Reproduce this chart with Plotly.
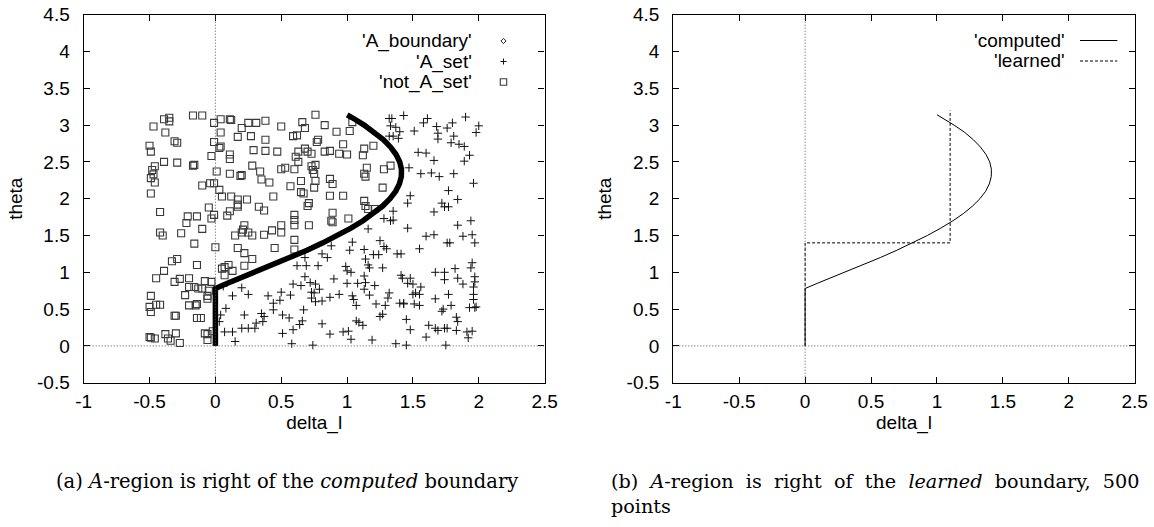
import plotly.graph_objects as go

# ---------------- data ----------------
boundary_delta = [0.0, 0.0, 0.0, 0.0, 0.0, 0.0, 0.0, 0.0, 0.0, 0.092, 0.162, 0.302, 0.438, 0.570,
                  0.696, 0.816, 0.927, 1.029, 1.121, 1.202, 1.270, 1.326, 1.369, 1.397, 1.412,
                  1.413, 1.400, 1.372, 1.331, 1.277, 1.211, 1.130, 1.040, 1.001]
boundary_theta = [0.0, 0.1, 0.2, 0.3, 0.4, 0.5, 0.6, 0.7, 0.78, 0.85, 0.9, 1.0, 1.1, 1.2,
                  1.3, 1.4, 1.5, 1.6, 1.7, 1.8, 1.9, 2.0, 2.1, 2.2, 2.3,
                  2.4, 2.5, 2.6, 2.7, 2.8, 2.9, 3.0, 3.1, 3.14]

a_set_delta = [1.32, 1.34, 1.33, 1.43, 1.37, 1.40, 1.32, 1.35, 1.39, 1.58, 1.61, 1.51, 1.68, 1.76, 1.80,
               1.90, 2.00, 1.98, 1.69, 1.69, 1.79, 1.81, 1.85, 1.89, 1.93, 1.89, 1.66, 1.54, 1.60,
               1.47, 1.56, 1.64, 1.70, 1.81, 1.96, 1.77, 1.84, 1.48, 1.46, 1.72, 1.74, 1.66, 1.77, 1.35, 1.35,
               1.28, 1.33, 1.16, 1.46, 1.66, 1.60, 1.84, 1.94, 1.88, 1.95, 1.97, 1.78, 1.76, 1.55, 1.38,
               1.41, 1.25, 1.28, 1.30, 1.24, 1.20, 1.13, 1.04, 1.02, 0.88, 0.81, 0.85, 0.68, 0.69, 0.62,
               0.78, 0.68, 0.72, 0.76, 0.65, 0.59,
               1.14, 1.16, 1.17, 1.27, 0.99, 1.00, 1.03, 1.13, 1.41, 1.42, 1.48, 1.50, 1.46, 1.56, 1.52,
               1.67, 1.84, 1.94, 1.95, 1.97, 1.97, 1.88, 1.74, 1.82, 1.74, 0.90, 1.00, 1.08, 1.14, 1.13,
               1.17, 1.21, 1.32, 1.31, 1.40, 1.43, 1.50, 1.55, 1.67, 1.77, 1.96, 1.96, 1.96, 1.04, 0.94,
               0.87, 0.79, 0.75, 0.73, 0.73, 0.76, 0.81, 0.57, 0.50, 0.40, 0.49, 0.44, 0.25, 0.20, 0.13, 0.06,
               0.04, 0.03, 0.08, 0.22, 0.35, 0.44, 0.37, 0.31, 0.36, 0.51, 0.56, 0.66, 0.64, 0.67, 1.05,
               1.07, 1.22, 1.29, 1.43, 1.51, 1.55, 1.72, 1.73, 1.79, 1.93, 1.97, 1.98, 1.83, 1.84, 1.27,
               1.25, 1.45, 1.07, 1.09, 1.12, 0.97, 1.01, 1.48, 1.62, 1.67, 1.69, 1.74, 1.76, 1.83, 1.91,
               1.95, 1.92, 1.60, 1.19, 1.03, 0.87, 0.81, 0.59, 0.51, 0.30, 0.25, 0.20, 0.13, 0.07, 0.15,
               0.58, 0.74, 1.37, 1.45, 1.75]
a_set_theta = [3.09, 3.09, 2.99, 3.13, 2.97, 2.91, 2.85, 2.85, 2.82, 3.03, 3.09, 2.92, 2.98, 2.96, 3.03,
               3.11, 2.99, 2.90, 2.89, 2.81, 2.76, 2.85, 2.74, 2.71, 2.59, 2.51, 2.52, 2.63, 2.62,
               2.42, 2.34, 2.35, 2.30, 2.34, 2.21, 2.11, 1.99, 2.04, 1.94, 1.94, 1.89, 1.82, 1.89, 1.83, 1.71,
               1.73, 1.70, 1.59, 1.60, 1.51, 1.49, 1.64, 1.70, 1.49, 1.51, 1.40, 1.40, 1.40, 1.32, 1.25,
               1.25, 1.43, 1.35, 1.32, 1.24, 1.24, 1.31, 1.41, 1.30, 1.36, 1.25, 1.20, 1.20, 1.09, 1.09,
               1.09, 0.94, 0.86, 0.84, 0.82, 0.84,
               1.18, 1.10, 1.06, 1.06, 1.08, 1.02, 1.00, 0.95, 0.96, 0.92, 0.92, 0.84, 0.85, 0.80, 0.72,
               1.00, 0.92, 1.06, 1.13, 0.94, 0.87, 0.84, 1.00, 1.05, 0.90, 0.91, 0.85, 0.85, 0.86, 0.77,
               0.69, 0.82, 0.72, 0.65, 0.58, 0.58, 0.70, 0.70, 0.64, 0.70, 0.70, 0.63, 0.80, 0.68, 0.70,
               0.66, 0.77, 0.72, 0.73, 0.65, 0.60, 0.61, 0.69, 0.73, 0.68, 0.62, 0.58, 0.70, 0.79, 0.68, 0.81,
               0.42, 0.33, 0.51, 0.42, 0.44, 0.49, 0.40, 0.31, 0.33, 0.42, 0.38, 0.34, 0.29, 0.49, 0.63,
               0.55, 0.57, 0.55, 0.57, 0.57, 0.55, 0.47, 0.50, 0.55, 0.52, 0.52, 0.53, 0.39, 0.33, 0.43,
               0.40, 0.36, 0.34, 0.32, 0.28, 0.19, 0.20, 0.22, 0.28, 0.24, 0.21, 0.24, 0.24, 0.21, 0.19,
               0.20, 0.11, 0.12, 0.08, 0.09, 0.16, 0.30, 0.22, 0.17, 0.24, 0.24, 0.24, 0.19, 0.19, 0.06,
               0.03, 0.01, 0.03, 0.01, 0.01]

not_a_delta = [-0.39, -0.35, -0.35, -0.17, -0.10, -0.01, 0.04, 0.11, 0.12, 0.20, 0.25, 0.31, 0.38, 0.50,
               0.66, 0.68, 0.76, 0.83, 1.04, -0.47, 0.04, -0.38,
               -0.29, -0.31, -0.01, 0.04, 0.03, 0.17, 0.27, 0.38, 0.59, 0.62, 0.78, 0.77, 0.92, 1.02, 0.97,
               -0.50, -0.49, -0.03, 0.29, 0.38, 0.47, 0.68, 0.63, 0.70, 0.73, 0.83, 0.87, 0.94, 1.00, 1.13,
               1.20, 1.12,
               0.11, 0.11, -0.39, -0.29, -0.17, -0.16, 0.28, 0.20, 0.34, 0.01, 0.11, 0.19, -0.46, -0.48,
               -0.47, 0.50, 0.53, 0.60, 0.73, 0.76, 0.74, 1.13, 1.14, 1.15, 1.28, 1.33, 0.61, 0.63, 0.75,
               -0.49, -0.46, -0.10, -0.04, -0.01, 0.03, 0.35, 0.41, 0.57, 0.65, 0.76, 0.87, 0.89, 0.75, 0.65,
               0.67, 1.27, -0.49, 0.05, 0.12, 0.17, 0.24, 0.44, 0.87, 0.97,
               -0.42, -0.21, -0.22, -0.14, -0.10, -0.05, -0.01, -0.03, 0.09, 0.11, 0.17, 0.17, 0.33, 0.37,
               0.60, 0.60, 0.71, 0.70, 0.89, 1.13, 1.14, 1.16, 1.21, 1.01, 0.89,
               -0.42, -0.40, -0.26, -0.16, 0.00, 0.21, 0.22, 0.20, 0.25, 0.28, 0.15, 0.37, 0.43, 0.50, 0.50,
               0.60, 0.60, 0.71, 0.88, 0.45, 0.60, 0.17, 0.22, 0.28,
               -0.33, -0.29, -0.39, -0.31, -0.27, -0.20, -0.14, -0.20, -0.16, -0.13, -0.10, -0.08, -0.03,
               0.05, 0.10, 0.07, 0.13, 0.22, 0.07, -0.05, -0.06, -0.06, -0.45,
               -0.49, -0.23, -0.50, -0.49, -0.45, -0.42, -0.30, -0.31, -0.20, -0.15, -0.14, -0.14, -0.11,
               -0.50, -0.49, -0.46, -0.38, -0.36, -0.34, -0.30, -0.27, -0.08, -0.06, -0.06, -0.02]
not_a_theta = [3.08, 3.10, 3.05, 3.13, 3.13, 3.03, 3.08, 3.08, 3.07, 2.96, 3.03, 3.03, 3.06, 2.98,
               3.04, 2.96, 3.14, 3.00, 3.04, 2.98, 2.90, 2.90,
               2.76, 2.78, 2.77, 2.71, 2.69, 2.84, 2.85, 2.80, 2.85, 2.86, 2.80, 2.77, 2.91, 2.92, 2.74,
               2.72, 2.64, 2.58, 2.66, 2.65, 2.64, 2.68, 2.64, 2.64, 2.61, 2.64, 2.65, 2.61, 2.60, 2.68,
               2.72, 2.59,
               2.60, 2.54, 2.50, 2.49, 2.45, 2.46, 2.45, 2.32, 2.37, 2.37, 2.34, 2.31, 2.44, 2.39,
               2.33, 2.40, 2.42, 2.40, 2.44, 2.46, 2.39, 2.34, 2.30, 2.42, 2.40, 2.45, 2.57, 2.50, 2.34,
               2.28, 2.22, 2.18, 2.21, 2.21, 2.12, 2.26, 2.22, 2.17, 2.24, 2.24, 2.27, 2.20, 2.15, 2.09,
               2.07, 2.15, 2.07, 2.03, 2.03, 1.99, 1.99, 2.03, 2.04, 2.04,
               1.82, 1.76, 1.67, 1.76, 1.59, 1.88, 1.78, 1.73, 1.77, 1.83, 1.89, 1.92, 1.89, 1.84,
               1.78, 1.71, 1.94, 1.90, 1.81, 1.97, 1.90, 1.86, 1.86, 1.73, 1.68,
               1.54, 1.50, 1.53, 1.39, 1.34, 1.58, 1.64, 1.54, 1.54, 1.50, 1.50, 1.51, 1.57, 1.64, 1.54,
               1.64, 1.44, 1.64, 1.70, 1.33, 1.31, 1.33, 1.26, 1.18,
               1.15, 1.18, 1.02, 0.87, 0.91, 0.92, 1.10, 0.80, 0.80, 0.78, 0.78, 0.88, 0.87,
               1.05, 1.10, 1.07, 1.02, 1.09, 0.96, 0.75, 0.68, 0.64, 0.92,
               0.68, 0.69, 0.53, 0.46, 0.56, 0.56, 0.41, 0.41, 0.55, 0.55, 0.57, 0.38, 0.38,
               0.12, 0.11, 0.10, 0.16, 0.10, 0.07, 0.17, 0.04, 0.17, 0.16, 0.08, 0.20]

learned_delta = [0.0, 0.0, 1.1, 1.1]
learned_theta = [0.0, 1.4, 1.4, 3.2]

x_ticks = [-1, -0.5, 0, 0.5, 1, 1.5, 2, 2.5]
y_ticks = [-0.5, 0, 0.5, 1, 1.5, 2, 2.5, 3, 3.5, 4, 4.5]

caption_a = "(a) <i>A</i>-region is right of the <i>computed</i> boundary"
caption_b1 = ("(b)&nbsp; <i>A</i>-region&nbsp; is&nbsp; right&nbsp; of&nbsp; the&nbsp; <i>learned</i>"
              "&nbsp; boundary,&nbsp; 500")
caption_b2 = "points"

# ---------------- layout helpers ----------------
W, H = 1154, 527


def px(v):
    return v / W


def py(v):
    return 1 - v / H


SANS = "Liberation Sans"
SERIF = "DejaVu Serif"
FS = 19

fig = go.Figure()

# left panel
fig.add_trace(go.Scatter(x=not_a_delta, y=not_a_theta, mode="markers", name="'not_A_set'",
                         marker=dict(symbol="square-open", size=7, color="#3a3a3a",
                                     line=dict(width=1.1, color="#3a3a3a")),
                         xaxis="x", yaxis="y", showlegend=False))
fig.add_trace(go.Scatter(x=a_set_delta, y=a_set_theta, mode="markers", name="'A_set'",
                         marker=dict(symbol="cross-thin", size=6, color="#111111",
                                     line=dict(width=1, color="#111111")),
                         xaxis="x", yaxis="y", showlegend=False))
fig.add_trace(go.Scatter(x=boundary_delta, y=boundary_theta, mode="lines", name="'A_boundary'",
                         line=dict(width=5.5, color="black"),
                         xaxis="x", yaxis="y", showlegend=False))

# right panel
fig.add_trace(go.Scatter(x=boundary_delta, y=boundary_theta, mode="lines", name="'computed'",
                         line=dict(width=1, color="black"),
                         xaxis="x2", yaxis="y2", showlegend=False))
fig.add_trace(go.Scatter(x=learned_delta, y=learned_theta, mode="lines", name="'learned'",
                         line=dict(width=1, color="black", dash="3px,2px"),
                         xaxis="x2", yaxis="y2", showlegend=False))

axis_common = dict(showline=True, linecolor="black", linewidth=1.3, mirror="ticks",
                   ticks="inside", ticklen=6, tickcolor="black", tickwidth=1,
                   showgrid=False, zeroline=False, ticklabeloverflow="allow",
                   tickfont=dict(family=SANS, size=FS, color="black"))
title_font = dict(family=SANS, size=FS, color="black")

ydom = [py(382.7), py(14.7)]
fig.update_layout(
    width=W, height=H, margin=dict(l=0, r=0, t=0, b=0),
    paper_bgcolor="white", plot_bgcolor="white",
    xaxis=dict(domain=[px(83.7), px(544.6)], range=[-1, 2.5], tickvals=x_ticks,
               ticktext=[f"{t:g}" for t in x_ticks], anchor="y", ticklabelstandoff=1,
               title=dict(text="delta_l", font=title_font, standoff=0),
               automargin=False, **axis_common),
    yaxis=dict(domain=ydom, range=[-0.5, 4.5], tickvals=y_ticks,
               ticktext=[f"{t:g}" for t in y_ticks], anchor="x", ticklabelstandoff=9,
               title=dict(text="theta", font=title_font, standoff=9),
               automargin=False, **axis_common),
    xaxis2=dict(domain=[px(673.3), px(1134.7)], range=[-1, 2.5], tickvals=x_ticks,
                ticktext=[f"{t:g}" for t in x_ticks], anchor="y2", ticklabelstandoff=1,
                title=dict(text="delta_l", font=title_font, standoff=0),
                automargin=False, **axis_common),
    yaxis2=dict(domain=ydom, range=[-0.5, 4.5], tickvals=y_ticks,
                ticktext=[f"{t:g}" for t in y_ticks], anchor="x2", ticklabelstandoff=9,
                title=dict(text="theta", font=title_font, standoff=9),
                automargin=False, **axis_common),
    showlegend=False,
)

shapes = []
# dotted zero axes
for xr, yr in (("x", "y"), ("x2", "y2")):
    shapes.append(dict(type="line", xref=xr, yref=f"{yr} domain", x0=0, x1=0, y0=0, y1=1,
                       line=dict(color="#555555", width=1, dash="1px,2px")))
    shapes.append(dict(type="line", xref=f"{xr} domain", yref=yr, x0=0, x1=1, y0=0, y1=0,
                       line=dict(color="#555555", width=1, dash="1px,2px")))

annotations = []
legend_font = dict(family=SANS, size=FS, color="black")
# left legend (text right-aligned, symbol on the right)
left_rows = [("'A_boundary'", 41.0), ("'A_set'", 61.5), ("'not_A_set'", 82.0)]
for text, yy in left_rows:
    annotations.append(dict(text=text, xref="paper", yref="paper", x=px(474), y=py(yy),
                            xanchor="right", yanchor="middle", showarrow=False, font=legend_font))
sx = 503.5
# diamond
d = 2.6
yy = 41.0
shapes.append(dict(type="path", xref="paper", yref="paper",
                   path=f"M {px(sx)} {py(yy - d)} L {px(sx + d)} {py(yy)} L {px(sx)} {py(yy + d)} "
                        f"L {px(sx - d)} {py(yy)} Z",
                   line=dict(color="#222222", width=1)))
# plus
p = 3
yy = 61.5
shapes.append(dict(type="line", xref="paper", yref="paper", x0=px(sx - p), x1=px(sx + p),
                   y0=py(yy), y1=py(yy), line=dict(color="#111111", width=1)))
shapes.append(dict(type="line", xref="paper", yref="paper", x0=px(sx), x1=px(sx),
                   y0=py(yy - p), y1=py(yy + p), line=dict(color="#111111", width=1)))
# square
s = 3.2
yy = 82.0
shapes.append(dict(type="rect", xref="paper", yref="paper", x0=px(sx - s), x1=px(sx + s),
                   y0=py(yy + s), y1=py(yy - s), line=dict(color="#3a3a3a", width=1.1)))

# right legend
right_rows = [("'computed'", 40.5, "solid"), ("'learned'", 61.0, "3px,2px")]
for text, yy, dash in right_rows:
    annotations.append(dict(text=text, xref="paper", yref="paper", x=px(1067), y=py(yy),
                            xanchor="right", yanchor="middle", showarrow=False, font=legend_font))
    shapes.append(dict(type="line", xref="paper", yref="paper", x0=px(1080), x1=px(1117.3),
                       y0=py(yy), y1=py(yy), line=dict(color="black", width=1, dash=dash)))

# captions
annotations.append(dict(text=caption_a, xref="paper", yref="paper", x=px(54), y=py(482),
                        xanchor="left", yanchor="middle", showarrow=False,
                        font=dict(family=SERIF, size=19.5, color="black")))
cap_font = dict(family=SERIF, size=19.2, color="black")
annotations.append(dict(text=caption_b1, xref="paper", yref="paper", x=px(609), y=py(482),
                        xanchor="left", yanchor="middle", showarrow=False, font=cap_font))
annotations.append(dict(text=caption_b2, xref="paper", yref="paper", x=px(609), y=py(506),
                        xanchor="left", yanchor="middle", showarrow=False, font=cap_font))

fig.update_layout(shapes=shapes, annotations=annotations)
# remove the browser's default 8px body margin so the figure fills the window exactly
fig.write_html("out.html", config={"displayModeBar": False},
               post_script="document.body.style.margin='0px';")
